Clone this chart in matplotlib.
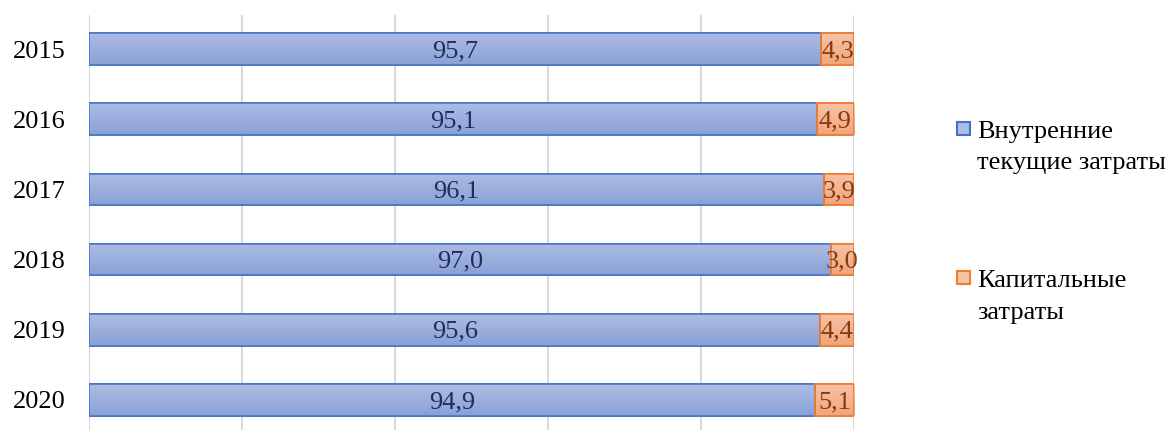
import numpy as np
import matplotlib
matplotlib.use("Agg")
import matplotlib.pyplot as plt
from matplotlib.patches import Rectangle

years = ["2015", "2016", "2017", "2018", "2019", "2020"]
current = [95.7, 95.1, 96.1, 97.0, 95.6, 94.9]
capital = [4.3, 4.9, 3.9, 3.0, 4.4, 5.1]
series_names = ["Внутренние\nтекущие затраты", "Капитальные\nзатраты"]

plt.rcParams["font.family"] = ["Liberation Serif", "DejaVu Serif"]

blue_top, blue_bot, blue_edge = "#adbce3", "#8aa1d7", "#4472c4"
orng_top, orng_bot, orng_edge = "#f7c3a6", "#f2a47c", "#ed7d31"

fig = plt.figure(figsize=(11.69, 4.30), dpi=100)
ax = fig.add_axes([89 / 1169, 0.0, 765 / 1169, 1 - 15 / 430])

y = np.arange(len(years))
h = 0.45
b1 = ax.barh(y, current, height=h, color=blue_bot, edgecolor=blue_edge, linewidth=1.1, zorder=3)
b2 = ax.barh(y, capital, left=current, height=h, color=orng_bot, edgecolor=orng_edge, linewidth=1.3, zorder=3)


def shade(bars, c_top, c_bot):
    grad = np.linspace(0, 1, 64).reshape(-1, 1)
    cmap = matplotlib.colors.LinearSegmentedColormap.from_list("g", [c_top, c_bot])
    for p in bars:
        x0, y0 = p.get_x(), p.get_y()
        w, hh = p.get_width(), p.get_height()
        im = ax.imshow(grad, cmap=cmap, aspect="auto", extent=[x0, x0 + w, y0 + hh, y0],
                       zorder=3.1, origin="upper")
        im.set_clip_path(p)
        # redraw edge on top
        ax.add_patch(Rectangle((x0, y0), w, hh, fill=False, edgecolor=p.get_edgecolor(),
                               linewidth=p.get_linewidth(), zorder=3.2))


shade(b1, blue_top, blue_bot)
shade(b2, orng_top, orng_bot)

fmt = lambda v: f"{v:.1f}".replace(".", ",")
for bars, vals, col in [(b1, current, "#1f2d5c"), (b2, capital, "#843c0c")]:
    txts = ax.bar_label(bars, labels=[fmt(v) for v in vals], label_type="center",
                        fontsize=19, color=col, zorder=5)
    for t in txts:
        t.set_y(t.get_position()[1] - 1.5)  # nudge down a little

ax.set_xlim(0, 100)
ax.set_ylim(5 + 30 / 70.2, -34 / 70.2)
ax.set_xticks(np.arange(0, 101, 20))
ax.set_xticklabels([])
ax.set_yticks(y)
ax.set_yticklabels(years, fontsize=19)
ax.tick_params(axis="both", length=0)
ax.tick_params(axis="y", pad=17)
ax.grid(axis="x", color="#d9d9d9", linewidth=1.5, zorder=0)
ax.set_axisbelow(True)
for s in ax.spines.values():
    s.set_visible(False)

# legend drawn by hand to keep the marker on the first text line
W, H = 1169, 430
leg = [(series_names[0], blue_top, blue_edge, 122), (series_names[1], orng_top, orng_edge, 271)]
for name, fc, ec, ytop in leg:
    fig.add_artist(Rectangle((957 / W, 1 - (ytop + 13) / H), 13 / W, 13 / H, facecolor=fc,
                             edgecolor=ec, linewidth=1.5, transform=fig.transFigure))
    for i, line in enumerate(name.split("\n")):
        fig.text(977 / W, 1 - (ytop + 16 + 31.5 * i) / H, line, fontsize=19,
                 va="baseline", ha="left", color="black")

fig.savefig("out.png", dpi=100)
